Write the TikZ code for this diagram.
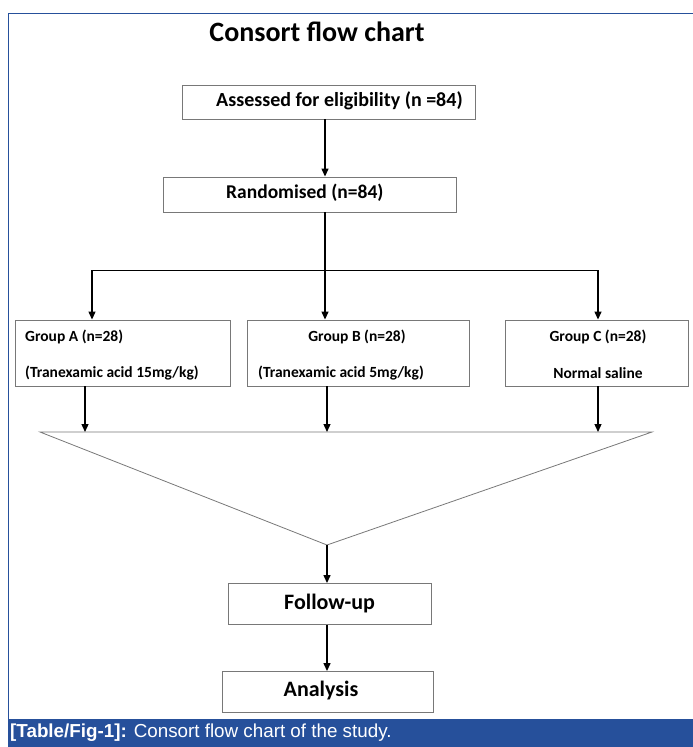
\documentclass[tikz,border=0pt]{standalone}
\usepackage{fontspec}
\setmainfont{Carlito}
\newfontfamily\capfont{Liberation Sans}
\usetikzlibrary{arrows.meta, positioning}
\definecolor{framblue}{RGB}{38,80,155}
\definecolor{boxgray}{RGB}{120,120,120}

\begin{document}
\begin{tikzpicture}[
  x=1pt, y=-1pt,
  box/.style={draw=boxgray, line width=0.9pt, inner sep=0pt, font=\bfseries\fontsize{20}{24}\selectfont},
  grp/.style={box, minimum height=66pt},
  grptxt/.style={inner sep=0pt, font=\bfseries\fontsize{15.5}{18}\selectfont},
  endbox/.style={box, minimum height=41pt, font=\bfseries\fontsize{22}{26}\selectfont},
  arr/.style={-{Triangle[length=8pt, width=7pt]}, line width=1.3pt},
  split/.style={line width=0.9pt},
  funnel/.style={draw=boxgray, line width=0.8pt}
]
  \useasboundingbox (0,0) rectangle (693,747);

  % frame and caption bar
  \draw[framblue, line width=1pt] (8,719) |- (693,13);
  \fill[framblue] (8,719) rectangle (693,747);
  \node[anchor=west, inner sep=0pt, text=white, font=\capfont\fontsize{18.8}{21}\selectfont] (caption) at (10,733)
    {\textbf{[Table/Fig-1]:} Consort flow chart of the study.};

  \node[inner sep=0pt, font=\bfseries\fontsize{28}{33}\selectfont] (title) at (317,32) {Consort flow chart};

  % main chain
  \node[box, minimum width=293pt, minimum height=34pt] (assess) at (328.5,102) {};
  \node[inner sep=0pt, font=\bfseries\fontsize{20}{24}\selectfont, anchor=west] (assesstxt) at (216,101) {Assessed for eligibility (n =84)};
  \node[box, minimum width=293pt, minimum height=35pt] (rand) at (309.5,194.5) {};
  \node[inner sep=0pt, font=\bfseries\fontsize{19.5}{23}\selectfont, anchor=west] (randtxt) at (226,193) {Randomised (n=84)};

  % groups
  \node[grp, minimum width=215pt] (grpA) at (122.5,353) {};
  \node[grp, minimum width=222pt] (grpB) at (358,353) {};
  \node[grp, minimum width=183pt] (grpC) at (596.5,353) {};

  \node[grptxt, anchor=west] (grpA1) at (25,337) {Group A (n=28)};
  \node[grptxt, anchor=west] (grpA2) at (25,373) {(Tranexamic acid 15mg/kg)};
  \node[grptxt] (grpB1) at (357,337) {Group B (n=28)};
  \node[grptxt, anchor=west] (grpB2) at (258,373) {(Tranexamic acid 5mg/kg)};
  \node[grptxt] (grpC1) at (598,337) {Group C (n=28)};
  \node[grptxt] (grpC2) at (598,373) {Normal saline};

  \node[endbox, minimum width=203pt] (follow) at (329.5,604) {Follow-up};
  \node[endbox, minimum width=211pt] (analysis) at (327.5,692) {};
  \node[inner sep=0pt, font=\bfseries\fontsize{22}{26}\selectfont] (analysistxt) at (321,691) {Analysis};

  % connectors
  \coordinate (splitL) at (92,270);
  \coordinate (splitR) at (598,270);
  \coordinate (funL) at (40,432);
  \coordinate (funR) at (652,432);
  \coordinate (funTip) at (327,545);

  \draw[arr] (assess.south -| 325,0) -- (rand.north -| 325,0);
  \draw[arr] (rand.south -| 325,0) -- (grpB.north -| 325,0);
  \draw[split] (splitL) -- (splitR);
  \draw[arr] (splitL) -- (grpA.north -| splitL);
  \draw[arr] (splitR) -- (grpC.north -| splitR);

  \draw[funnel] (funL) -- (funR) -- (funTip) -- cycle;
  \draw[arr] (grpA.south -| 85,0) -- (funL -| 85,0);
  \draw[arr] (grpB.south -| 327,0) -- (funL -| 327,0);
  \draw[arr] (grpC.south -| 598,0) -- (funL -| 598,0);

  \draw[arr] (funTip) -- (follow.north -| funTip);
  \draw[arr] (follow.south -| funTip) -- (analysis.north -| funTip);
\end{tikzpicture}
\end{document}
